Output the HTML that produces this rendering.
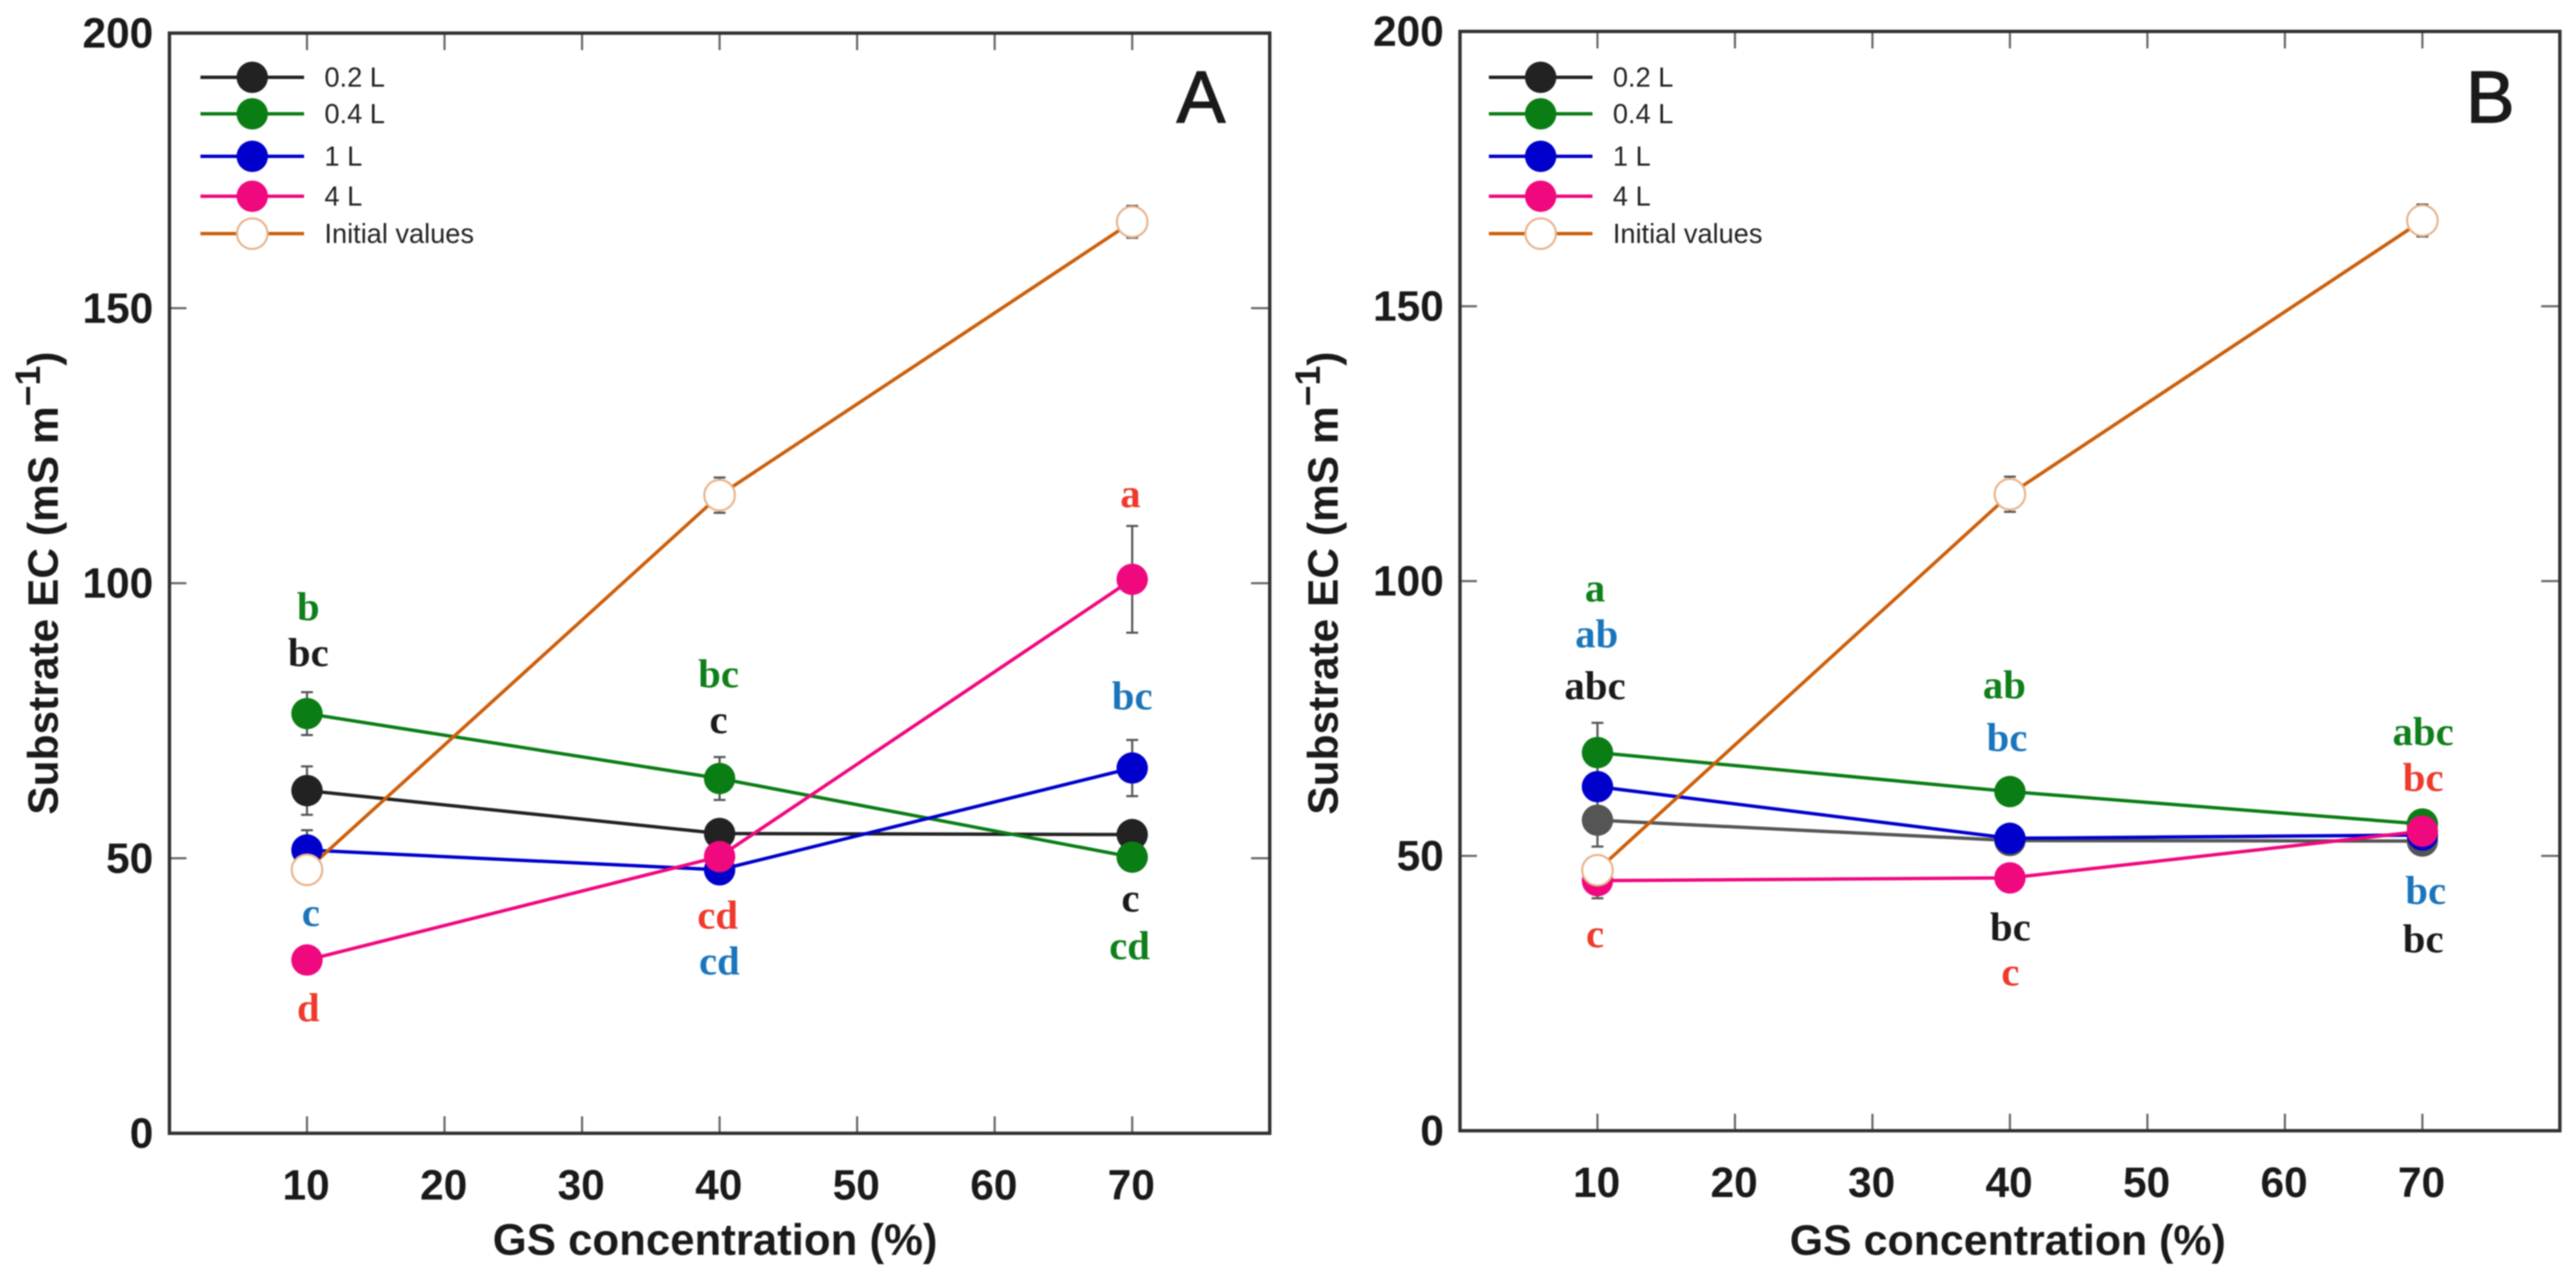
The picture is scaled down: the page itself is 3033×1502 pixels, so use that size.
<!DOCTYPE html>
<html lang="en">
<head>
<meta charset="utf-8">
<title>Substrate EC vs GS concentration</title>
<style>
html,body{margin:0;padding:0;background:#fff;}
svg{display:block;filter:blur(0.7px);}
.tick{font:bold 50px "Liberation Sans",Arial,sans-serif;fill:#1a1a1a;}
.title{font:bold 50px "Liberation Sans",Arial,sans-serif;fill:#1a1a1a;}
.leg{font:32px "Liberation Sans",Arial,sans-serif;fill:#222;}
.panel{font:86px "Liberation Sans",Arial,sans-serif;fill:#1a1a1a;stroke:#1a1a1a;stroke-width:1.5px;}
.let{font:bold 48px "Liberation Serif","Times New Roman",serif;text-anchor:middle;}
.g{fill:#0f7f1a}.k{fill:#1a1a1a}.b{fill:#1a75bb}.r{fill:#ee3a2c}
</style>
</head>
<body>
<svg id="chart" xmlns="http://www.w3.org/2000/svg" width="3033" height="1502" viewBox="0 0 3033 1502">
  <rect width="3033" height="1502" fill="#fff"/>

  <text class="title" transform="translate(68,959) rotate(-90)">Substrate EC (mS m<tspan font-size="42" dy="-21">−1</tspan><tspan dy="21">)</tspan></text>
  <text class="title" transform="translate(1575,959) rotate(-90)">Substrate EC (mS m<tspan font-size="42" dy="-21">−1</tspan><tspan dy="21">)</tspan></text>
  <text class="title" x="842" y="1477" text-anchor="middle" style="font-size:51.5px">GS concentration (%)</text>
  <text class="title" x="2364" y="1477" text-anchor="middle" style="font-size:50.5px">GS concentration (%)</text>
  <text class="panel" x="1414" y="144" text-anchor="middle">A</text>
  <text class="panel" x="2932" y="144" text-anchor="middle">B</text>

  <g>
    <text class="let g" x="363" y="730">b</text>
    <text class="let k" x="363" y="784">bc</text>
    <text class="let b" x="366" y="1090">c</text>
    <text class="let r" x="363" y="1202">d</text>
    <text class="let g" x="846" y="809">bc</text>
    <text class="let k" x="846" y="863">c</text>
    <text class="let r" x="845" y="1093">cd</text>
    <text class="let b" x="847" y="1147">cd</text>
    <text class="let r" x="1331" y="597">a</text>
    <text class="let b" x="1333" y="835">bc</text>
    <text class="let k" x="1331" y="1073">c</text>
    <text class="let g" x="1330" y="1129">cd</text>
  </g>
  <g>
    <text class="let g" x="1878" y="708">a</text>
    <text class="let b" x="1880" y="762">ab</text>
    <text class="let k" x="1878" y="823">abc</text>
    <text class="let r" x="1878" y="1115">c</text>
    <text class="let g" x="2360" y="822">ab</text>
    <text class="let b" x="2363" y="884">bc</text>
    <text class="let k" x="2367" y="1107">bc</text>
    <text class="let r" x="2367" y="1160">c</text>
    <text class="let g" x="2853" y="877">abc</text>
    <text class="let r" x="2853" y="931">bc</text>
    <text class="let b" x="2856" y="1064">bc</text>
    <text class="let k" x="2853" y="1121">bc</text>
  </g>
</svg>
<script>
// Data
const concentrations = [10, 40, 70];
const xTickLabels = [10, 20, 30, 40, 50, 60, 70];
const yTickLabels = [0, 50, 100, 150, 200];
const seriesNames = ['0.2 L', '0.4 L', '1 L', '4 L', 'Initial values'];

const panelA02 = [62.3, 54.5, 54.3];
const panelA04 = [76.3, 64.5, 50.2];
const panelA1 = [51.5, 47.9, 66.4];
const panelA4 = [31.5, 50.3, 100.7];
const panelAInit = [47.9, 116, 165.7];
const panelA02Err = [4.4, 0, 0];
const panelA04Err = [3.9, 3.9, 0];
const panelA1Err = [3.6, 0, 5.1];
const panelA4Err = [0, 0, 9.7];
const panelAInitErr = [0, 3.2, 2.9];

const panelB02 = [56.5, 52.8, 52.7];
const panelB04 = [68.8, 61.7, 55.8];
const panelB1 = [62.6, 53.2, 53.8];
const panelB4 = [45.5, 46, 54.5];
const panelBInit = [47.4, 115.8, 165.6];
const panelB02Err = [4.8, 0, 0];
const panelB04Err = [5.4, 0, 0];
const panelB1Err = [0, 0, 0];
const panelB4Err = [3.2, 0, 0];
const panelBInitErr = [0, 3.2, 2.9];

const svg = document.getElementById('chart');
const NS = 'http://www.w3.org/2000/svg';

function make(tag, attrs, parent) {
  const node = document.createElementNS(NS, tag);
  for (const k in attrs) node.setAttribute(k, attrs[k]);
  parent.appendChild(node);
  return node;
}

function drawPanel(id, box, legendBox, plotColors, values, errors) {
  const xOf = v => box.left + (v / 80) * (box.right - box.left);
  const yOf = v => box.bottom - (v / 200) * (box.bottom - box.top);

  const g = make('g', {}, svg);
  
  

  // ticks
  xTickLabels.forEach(v => {
    const t1 = make('line', {x1: xOf(v), x2: xOf(v), y1: box.top, y2: box.top + 20, stroke: '#666', 'stroke-width': 2.5}, g);
    
    
    const t2 = make('line', {x1: xOf(v), x2: xOf(v), y1: box.bottom, y2: box.bottom - 20, stroke: '#666', 'stroke-width': 2.5}, g);
    
    
    const lab = make('text', {x: xOf(v) - 1, y: box.bottom + 78, 'text-anchor': 'middle', class: 'tick'}, g);
    
    
    lab.textContent = v;
  });
  yTickLabels.forEach(v => {
    if (v !== 0 && v !== 200) {
      const t1 = make('line', {x1: box.left, x2: box.left + 20, y1: yOf(v), y2: yOf(v), stroke: '#666', 'stroke-width': 2.5}, g);
      
      
      const t2 = make('line', {x1: box.right, x2: box.right - 22, y1: yOf(v), y2: yOf(v), stroke: '#666', 'stroke-width': 2.5}, g);
      
      
    }
    const lab = make('text', {x: box.left - 19, y: yOf(v) + 17, 'text-anchor': 'end', class: 'tick'}, g);
    
    
    lab.textContent = v;
  });

  // frame
  const frame = make('rect', {x: box.left, y: box.top, width: box.right - box.left, height: box.bottom - box.top, fill: 'none', stroke: '#333', 'stroke-width': 4}, g);
  
  

  // error bars
  values.forEach((vals, s) => {
    vals.forEach((v, i) => {
      const e = errors[s][i];
      if (!e) return;
      const x = xOf(concentrations[i]);
      const eb = make('path', {
        d: 'M' + x + ' ' + yOf(v + e) + 'V' + yOf(v - e) +
           'M' + (x - 7) + ' ' + yOf(v + e) + 'h14M' + (x - 7) + ' ' + yOf(v - e) + 'h14',
        fill: 'none', stroke: '#555', 'stroke-width': 2.5}, g);
      
      
    });
  });

  // lines
  values.forEach((vals, s) => {
    const pts = vals.map((v, i) => xOf(concentrations[i]) + ',' + yOf(v)).join(' ');
    const ln = make('polyline', {points: pts, fill: 'none', stroke: plotColors[s], 'stroke-width': 4}, g);
    
    
  });

  // markers
  values.forEach((vals, s) => {
    const open = s === 4;
    vals.forEach((v, i) => {
      const c = make('circle', {
        cx: xOf(concentrations[i]), cy: yOf(v), r: open ? 18 : 18.5,
        fill: open ? '#fff' : plotColors[s],
        stroke: open ? '#e8b48c' : 'none', 'stroke-width': open ? 2.5 : 0}, g);
      
      
    });
  });

  // legend
  const legendColors = ['#222222', '#0a7d14', '#0000cc', '#f0087f', '#cc5f0a'];
  const legendRows = [91, 134, 184, 231, 275];
  seriesNames.forEach((name, s) => {
    const y = legendRows[s];
    const row = make('g', {}, g);
    
    
    make('line', {x1: legendBox.x, x2: legendBox.x + 122, y1: y, y2: y, stroke: legendColors[s], 'stroke-width': 4}, row);
    const open = s === 4;
    make('circle', {cx: legendBox.x + 61, cy: y, r: open ? 18 : 18.5,
      fill: open ? '#fff' : legendColors[s], stroke: open ? '#e8b48c' : 'none', 'stroke-width': open ? 2.5 : 0}, row);
    const t = make('text', {x: legendBox.x + 146, y: y + 11, class: 'leg'}, row);
    t.textContent = name;
  });
}

const colorsA = ['#222222', '#0a7d14', '#0000cc', '#f0087f', '#cc5f0a'];
const colorsB = ['#555555', '#0a7d14', '#0000cc', '#f0087f', '#cc5f0a'];

drawPanel('a', {left: 199.5, right: 1495, top: 39, bottom: 1334}, {x: 236}, colorsA,
  [panelA02, panelA04, panelA1, panelA4, panelAInit],
  [panelA02Err, panelA04Err, panelA1Err, panelA4Err, panelAInitErr]);

drawPanel('b', {left: 1719, right: 3014, top: 37, bottom: 1331}, {x: 1753}, colorsB,
  [panelB02, panelB04, panelB1, panelB4, panelBInit],
  [panelB02Err, panelB04Err, panelB1Err, panelB4Err, panelBInitErr]);
</script>
</body>
</html>
